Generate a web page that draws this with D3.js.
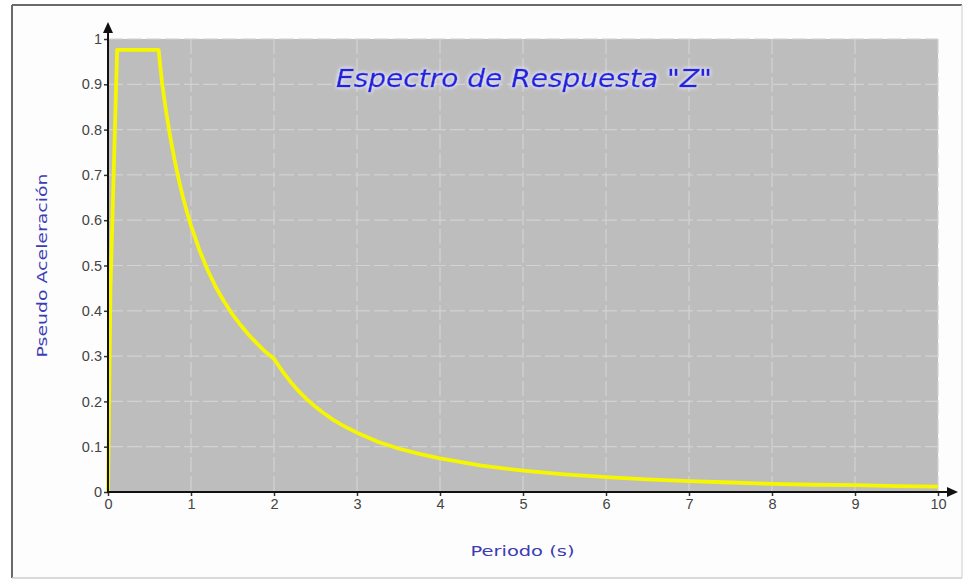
<!DOCTYPE html>
<html>
<head>
<meta charset="utf-8">
<script src="https://cdn.jsdelivr.net/npm/d3@7"></script>
<style>
  html, body { margin: 0; padding: 0; background: #ffffff; }
  svg { display: block; }
</style>
</head>
<body>
<svg id="chart" width="965" height="580"></svg>
<script>
// ---- data ----
const periods = [0, 0.03, 0.11, 0.61, 0.65, 0.7, 0.75, 0.8, 0.85, 0.9, 0.95, 1.0, 1.1, 1.2, 1.3, 1.4, 1.5, 1.6, 1.7, 1.8, 1.9, 2.0,
                 2.1, 2.2, 2.3, 2.4, 2.5, 2.6, 2.7, 2.8, 2.9, 3.0, 3.25, 3.5, 3.75, 4.0, 4.5, 5.0, 5.5, 6.0, 6.5, 7.0, 7.5, 8.0, 8.5, 9.0, 9.5, 10];
const accel   = [0, 0.45, 0.976, 0.976, 0.905, 0.840, 0.784, 0.735, 0.692, 0.653, 0.619, 0.588, 0.535, 0.490, 0.452, 0.420, 0.392, 0.368, 0.346, 0.327, 0.309, 0.294,
                 0.267, 0.243, 0.222, 0.204, 0.188, 0.174, 0.161, 0.150, 0.140, 0.131, 0.111, 0.096, 0.084, 0.074, 0.058, 0.047, 0.039, 0.033, 0.028, 0.024, 0.021, 0.018, 0.016, 0.015, 0.013, 0.012];
const xTicks = [0, 1, 2, 3, 4, 5, 6, 7, 8, 9, 10];
const yTicks = [0, 0.1, 0.2, 0.3, 0.4, 0.5, 0.6, 0.7, 0.8, 0.9, 1];
const xTickLabels = ["0", "1", "2", "3", "4", "5", "6", "7", "8", "9", "10"];
const yTickLabels = ["0", "0.1", "0.2", "0.3", "0.4", "0.5", "0.6", "0.7", "0.8", "0.9", "1"];
const titleText = 'Espectro de Respuesta "Z"';
const xLabel = "Periodo (s)";
const yLabel = "Pseudo Aceleración";

// ---- layout ----
const plot = { left: 108, right: 938, top: 39, bottom: 492 };
const svg = d3.select("#chart");

const x = d3.scaleLinear().domain([0, 10]).range([plot.left, plot.right]);
const y = d3.scaleLinear().domain([0, 1]).range([plot.bottom, plot.top]);

// outer frame (sunken look)
svg.append("rect").attr("x", 12).attr("y", 5).attr("width", 950).attr("height", 573).attr("fill", "#fdfdfd");
svg.append("line").attr("x1", 12).attr("y1", 5).attr("x2", 962).attr("y2", 5).attr("stroke", "#6a6a6a").attr("stroke-width", 2);
svg.append("line").attr("x1", 12).attr("y1", 5).attr("x2", 12).attr("y2", 578).attr("stroke", "#6a6a6a").attr("stroke-width", 2);
svg.append("line").attr("x1", 962).attr("y1", 5).attr("x2", 962).attr("y2", 578).attr("stroke", "#dddddd").attr("stroke-width", 1.5);
svg.append("line").attr("x1", 12).attr("y1", 578).attr("x2", 962).attr("y2", 578).attr("stroke", "#cccccc").attr("stroke-width", 1.5);

// plot background
svg.append("rect")
  .attr("x", x(0)).attr("y", y(1))
  .attr("width", x(10) - x(0)).attr("height", y(0) - y(1))
  .attr("fill", "#bdbdbd");

// gridlines
const grid = svg.append("g").attr("stroke", "#d2d2d2").attr("stroke-width", 1.2).attr("stroke-dasharray", "15,4");
grid.selectAll("line.v").data(xTicks.slice(1)).join("line").attr("class", "v")
  .attr("x1", d => x(d)).attr("x2", d => x(d)).attr("y1", y(1)).attr("y2", y(0));
grid.selectAll("line.h").data(yTicks.slice(1)).join("line").attr("class", "h")
  .attr("x1", x(0)).attr("x2", x(10)).attr("y1", d => y(d)).attr("y2", d => y(d));

// title with soft glow
const defs = svg.append("defs");
const glow = defs.append("filter").attr("id", "glow").attr("x", "-10%").attr("y", "-30%").attr("width", "120%").attr("height", "160%");
glow.append("feGaussianBlur").attr("in", "SourceAlpha").attr("stdDeviation", 2.2).attr("result", "b");
glow.append("feFlood").attr("flood-color", "#e6e6ff").attr("result", "c");
glow.append("feComposite").attr("in", "c").attr("in2", "b").attr("operator", "in").attr("result", "g");
const fm = glow.append("feMerge");
fm.append("feMergeNode").attr("in", "g");
fm.append("feMergeNode").attr("in", "g");
fm.append("feMergeNode").attr("in", "SourceGraphic");

svg.append("text")
  .attr("x", 524).attr("y", 87)
  .attr("text-anchor", "middle")
  .attr("font-family", "'DejaVu Sans', sans-serif")
  .attr("font-style", "italic")
  .attr("font-size", 25)
  .attr("fill", "#2424dc")
  .attr("stroke", "#2424dc").attr("stroke-width", 0.4)
  .attr("textLength", 376)
  .attr("lengthAdjust", "spacingAndGlyphs")
  .attr("filter", "url(#glow)")
  .text(titleText);

// spectrum line
const pts = periods.map((p, i) => [p, accel[i]]);
svg.append("path")
  .datum(pts)
  .attr("fill", "none")
  .attr("stroke", "#f6f600")
  .attr("stroke-width", 3.8)
  .attr("stroke-linejoin", "round")
  .attr("d", d3.line().x(d => x(d[0])).y(d => y(d[1])));

// axes
const tickFont = "'Liberation Sans', Arial, sans-serif";
const yAxis = svg.append("g")
  .attr("transform", `translate(${x(0)},0)`)
  .call(d3.axisLeft(y).tickValues(yTicks).tickSize(4).tickPadding(2).tickFormat((d, i) => yTickLabels[i]));
yAxis.select(".domain").remove();
yAxis.selectAll(".tick line").attr("stroke", "#333").attr("stroke-width", 1.5);
yAxis.selectAll(".tick text").attr("font-family", tickFont).attr("font-size", 14.5).attr("fill", "#444");

const xAxis = svg.append("g")
  .attr("transform", `translate(0,${y(0)})`)
  .call(d3.axisBottom(x).tickValues(xTicks).tickSize(4).tickPadding(3).tickFormat((d, i) => xTickLabels[i]));
xAxis.select(".domain").remove();
xAxis.selectAll(".tick line").attr("stroke", "#333").attr("stroke-width", 1.5);
xAxis.selectAll(".tick text").attr("font-family", tickFont).attr("font-size", 14.5).attr("fill", "#444");

// axis lines with arrows
svg.append("line").attr("x1", x(0)).attr("x2", x(0)).attr("y1", y(0) + 1).attr("y2", y(1) - 10)
  .attr("stroke", "#111").attr("stroke-width", 2);
svg.append("path")
  .attr("d", `M${x(0)},${y(1) - 17} L${x(0) - 5},${y(1) - 6} L${x(0) + 5},${y(1) - 6} Z`)
  .attr("fill", "#111");
svg.append("line").attr("x1", x(0) - 1).attr("x2", x(10) + 12).attr("y1", y(0)).attr("y2", y(0))
  .attr("stroke", "#111").attr("stroke-width", 2);
svg.append("path")
  .attr("d", `M${x(10) + 20},${y(0)} L${x(10) + 9},${y(0) - 5} L${x(10) + 9},${y(0) + 5} Z`)
  .attr("fill", "#111");

// axis titles
const labelFont = "'DejaVu Sans', sans-serif";
svg.append("text")
  .attr("x", (x(0) + x(10)) / 2 - 0.5).attr("y", 556)
  .attr("text-anchor", "middle")
  .attr("font-family", labelFont).attr("font-size", 14)
  .attr("fill", "#3c3cb4")
  .attr("textLength", 104).attr("lengthAdjust", "spacingAndGlyphs")
  .text(xLabel);

svg.append("text")
  .attr("transform", `translate(47,${(y(0) + y(1)) / 2}) rotate(-90)`)
  .attr("text-anchor", "middle")
  .attr("font-family", labelFont).attr("font-size", 14)
  .attr("fill", "#3c3cb4")
  .attr("textLength", 184).attr("lengthAdjust", "spacingAndGlyphs")
  .text(yLabel);
</script>
</body>
</html>
